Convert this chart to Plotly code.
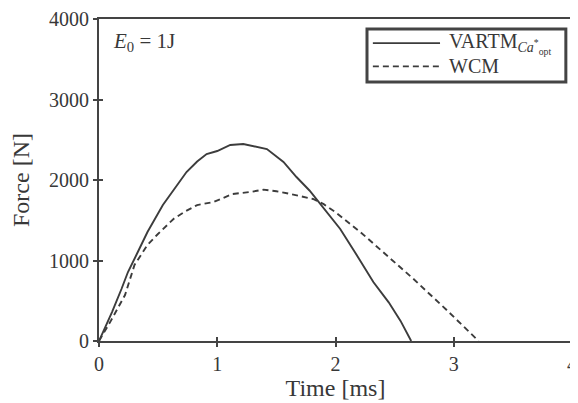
import plotly.graph_objects as go

# Data
t_vartm = [0, 0.05, 0.11, 0.19, 0.245, 0.32, 0.41, 0.54, 0.64, 0.74, 0.83, 0.91, 1.0,
           1.11, 1.22, 1.32, 1.42, 1.56, 1.67, 1.78, 1.87, 2.04, 2.2, 2.32, 2.45, 2.55, 2.64]
f_vartm = [0, 160, 360, 646, 857, 1081, 1354, 1689, 1900, 2099, 2230, 2323, 2360,
           2435, 2447, 2420, 2385, 2224, 2037, 1870, 1702, 1391, 1020, 733, 480, 250, 0]

t_wcm = [0, 0.05, 0.1, 0.22, 0.30, 0.41, 0.49, 0.63, 0.73, 0.83, 0.97, 1.13, 1.28, 1.39,
         1.5, 1.62, 1.81, 1.9, 2.0, 2.21, 2.4, 2.66, 2.94, 3.1, 3.21]
f_wcm = [0, 120, 250, 571, 944, 1193, 1317, 1516, 1610, 1689, 1727, 1826, 1851, 1880,
         1860, 1826, 1764, 1700, 1600, 1354, 1106, 770, 385, 160, 0]

x_ticks = [0, 1, 2, 3, 4]
y_ticks = [0, 1000, 2000, 3000, 4000]

legend_names = ["VARTM<sub><i>Ca</i><sup>*</sup><sub>opt</sub></sub>", "WCM"]

LC = "#3c3c3c"
AX = "#444444"
TXT = "#383838"
FONT = "Liberation Serif, DejaVu Serif, serif"

fig = go.Figure()
fig.add_trace(go.Scatter(x=t_vartm, y=f_vartm, mode="lines", name=legend_names[0],
                         showlegend=False, line=dict(color=LC, width=1.9)))
fig.add_trace(go.Scatter(x=t_wcm, y=f_wcm, mode="lines", name=legend_names[1],
                         showlegend=False, line=dict(color=LC, width=1.9, dash="6px,4px")))
fig.add_trace(go.Scatter(x=[None], y=[None], xaxis="x2", yaxis="y2", showlegend=False))

axis_common = dict(showgrid=False, zeroline=False, showline=True, linecolor=AX,
                   linewidth=2, mirror=True, ticks="outside", ticklen=4,
                   tickwidth=2, tickcolor=AX, automargin=False,
                   ticklabeloverflow="allow")

# Manual legend (paper coordinates)
shapes = [
    dict(type="rect", xref="paper", yref="paper", x0=0.5666, x1=0.987, y0=0.804, y1=0.969,
         line=dict(color=AX, width=3), fillcolor="white", layer="above"),
    dict(type="line", xref="paper", yref="paper", x0=0.579, x1=0.721, y0=0.925, y1=0.925,
         line=dict(color=LC, width=1.9), layer="above"),
    dict(type="line", xref="paper", yref="paper", x0=0.579, x1=0.721, y0=0.853, y1=0.853,
         line=dict(color=LC, width=1.9, dash="6px,4px"), layer="above"),
]

annotations = [
    dict(text="<i>E</i><sub>0</sub> = 1J", x=0.026, y=0.93, xref="paper", yref="paper",
         xanchor="left", yanchor="middle", showarrow=False,
         font=dict(family=FONT, size=21, color=TXT)),
    dict(text=legend_names[0], x=0.735, y=0.925, xref="paper", yref="paper",
         xanchor="left", yanchor="middle", showarrow=False,
         font=dict(family=FONT, size=20, color=TXT)),
    dict(text=legend_names[1], x=0.735, y=0.853, xref="paper", yref="paper",
         xanchor="left", yanchor="middle", showarrow=False,
         font=dict(family=FONT, size=20, color=TXT)),
]

fig.update_layout(
    width=570, height=395,
    margin=dict(l=91, r=6, t=11, b=62),
    paper_bgcolor="white", plot_bgcolor="white",
    font=dict(family=FONT, size=20, color=TXT),
    showlegend=False,
    xaxis=dict(range=[0, 4], tickvals=x_ticks, ticktext=[str(v) for v in x_ticks],
               title=dict(text="Time [ms]", standoff=3), **axis_common),
    yaxis=dict(range=[0, 4000], tickvals=y_ticks, ticktext=[str(v) for v in y_ticks],
               title=dict(text="Force [N]", standoff=14), **axis_common),
    xaxis2=dict(range=[0, 4], tickvals=x_ticks, overlaying="x", showticklabels=False,
                ticks="inside", ticklen=4, tickwidth=2, tickcolor=AX, showgrid=False,
                zeroline=False, showline=False, automargin=False),
    yaxis2=dict(range=[0, 4000], tickvals=y_ticks, overlaying="y", showticklabels=False,
                ticks="inside", ticklen=4, tickwidth=2, tickcolor=AX, showgrid=False,
                zeroline=False, showline=False, automargin=False),
    shapes=shapes,
    annotations=annotations,
)

fig.write_html("out.html")
